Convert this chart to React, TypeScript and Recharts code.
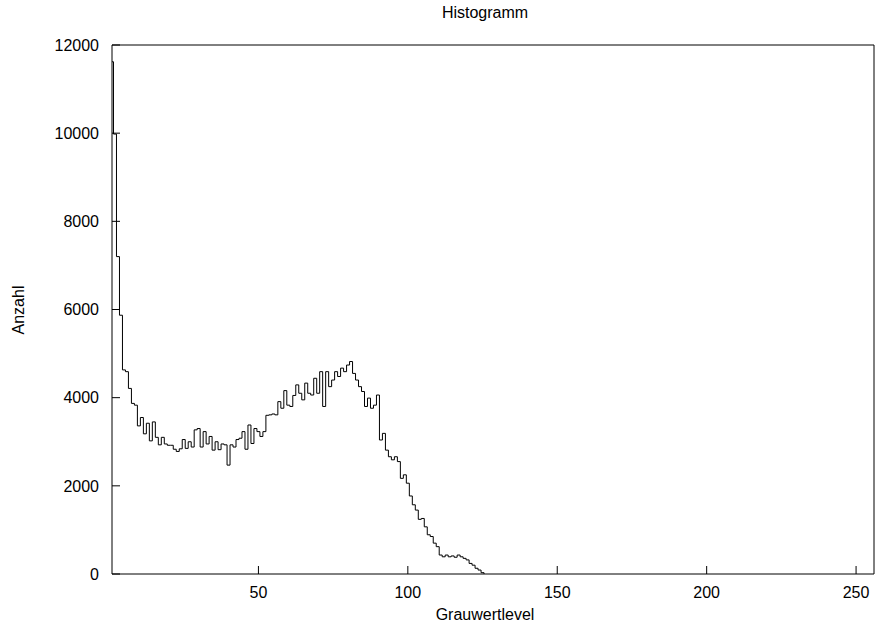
import React from 'react';
import { LineChart, Line, XAxis, YAxis } from 'recharts';

// Histogram counts for grey levels 1, 2, 3, ... (one value per level)
const firstLevel = 1;
const counts = [
  11620, 9980, 7200, 5870, 4630, 4590, 4210, 3870, 3830, 3360,
  3550, 3180, 3420, 3020, 3450, 3100, 2930, 3100, 2950, 2920,
  2920, 2830, 2780, 2840, 3050, 2850, 3000, 2880, 3270, 3300,
  2880, 3230, 2950, 3120, 2810, 3000, 2820, 2950, 2930, 2470,
  2930, 2880, 3050, 3080, 3230, 2830, 3380, 2960, 3300, 3230,
  3120, 3230, 3600, 3610, 3630, 3610, 3910, 3760, 4160, 3830,
  3800, 4050, 4290, 4100, 3950, 4330, 4100, 4060, 4440, 4100,
  4590, 3800, 4590, 4250, 4400, 4590, 4480, 4670, 4590, 4740,
  4820, 4550, 4400, 4250, 4140, 3800, 3990, 3760, 3830, 4060,
  3040, 3190, 2810, 2660, 2590, 2660, 2550, 2170, 2250, 2060,
  1770, 1570, 1450, 1240, 1260, 1070, 890, 850, 700, 620,
  430, 390, 430, 390, 410, 380, 430, 390, 355, 320,
  240, 200, 130, 90, 30, 0,
];

const xDomain = [1, 256];
const yDomain = [0, 12000];
const xTicks = [50, 100, 150, 200, 250];
const yTicks = [0, 2000, 4000, 6000, 8000, 10000, 12000];

const titleText = 'Histogramm';
const xLabelText = 'Grauwertlevel';
const yLabelText = 'Anzahl';

// histeps-like: each bin centred on its level, drawn from level-0.5 to level+0.5
const data = counts.map((c, i) => ({ x: firstLevel + i - 0.5, y: c }));

const FONT = '"Liberation Sans", Arial, Helvetica, sans-serif';
const tickStyle = { fill: '#000', fontSize: 16, fontFamily: FONT };

export default function App() {
  return (
    <div style={{ position: 'absolute', left: 0, top: 0, width: 875, height: 628, background: '#fff' }}>
      <LineChart
        width={875}
        height={628}
        data={data}
        margin={{ top: 44, right: 0, bottom: 0, left: 0 }}
        style={{ fontFamily: FONT }}
      >
        <XAxis
          xAxisId="b"
          dataKey="x"
          type="number"
          domain={xDomain}
          ticks={xTicks}
          allowDataOverflow
          height={54}
          stroke="#000"
          tickSize={-8}
          tickMargin={21}
          tick={tickStyle}
          tickLine={{ stroke: '#000' }}
          axisLine={{ stroke: '#000' }}
        />
        <XAxis
          xAxisId="t"
          orientation="top"
          dataKey="x"
          type="number"
          domain={xDomain}
          ticks={xTicks}
          allowDataOverflow
          height={1}
          stroke="#000"
          tickSize={-8}
          tick={false}
          tickLine={{ stroke: '#000' }}
          axisLine={{ stroke: '#000' }}
        />
        <YAxis
          yAxisId="l"
          type="number"
          domain={yDomain}
          ticks={yTicks}
          allowDataOverflow
          width={112}
          stroke="#000"
          tickSize={-8}
          tickMargin={21}
          tick={tickStyle}
          tickLine={{ stroke: '#000' }}
          axisLine={{ stroke: '#000' }}
        />
        <YAxis
          yAxisId="r"
          orientation="right"
          type="number"
          domain={yDomain}
          ticks={yTicks}
          allowDataOverflow
          width={1}
          stroke="#000"
          tickSize={-8}
          tick={false}
          tickLine={{ stroke: '#000' }}
          axisLine={{ stroke: '#000' }}
        />
        <Line
          xAxisId="b"
          yAxisId="l"
          dataKey="y"
          type="stepAfter"
          stroke="#000"
          strokeWidth={1}
          dot={false}
          activeDot={false}
          isAnimationActive={false}
        />
        <text x={485} y={18} textAnchor="middle" fontSize={16} fontFamily={FONT} fill="#000">
          {titleText}
        </text>
        <text x={485} y={620} textAnchor="middle" fontSize={16} fontFamily={FONT} fill="#000">
          {xLabelText}
        </text>
        <text
          x={18}
          y={310}
          textAnchor="middle"
          fontSize={16}
          fontFamily={FONT}
          fill="#000"
          transform="rotate(-90 18 310)"
          dominantBaseline="central"
        >
          {yLabelText}
        </text>
      </LineChart>
    </div>
  );
}
